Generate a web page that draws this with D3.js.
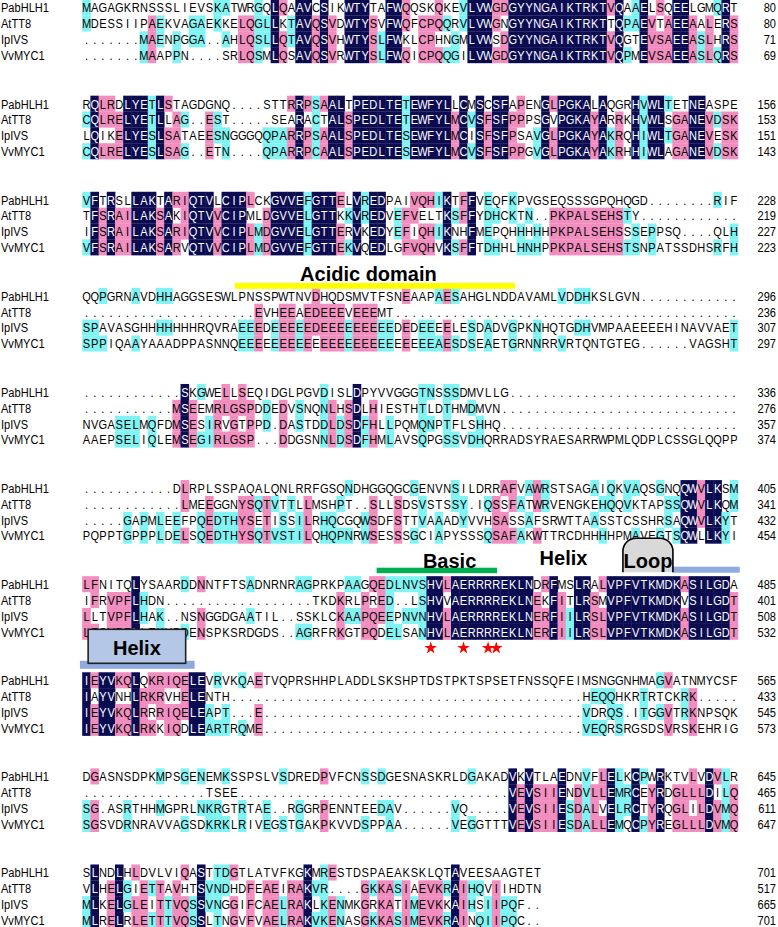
<!DOCTYPE html>
<html>
<head>
<meta charset="utf-8">
<title>bHLH alignment</title>
<script src="https://cdn.jsdelivr.net/npm/d3@7"></script>
<style>
  body { margin: 0; background-color: white; }
  svg text { font-family: 'Liberation Sans', Arial, sans-serif; }
</style>
</head>
<body>
<svg id="chart" width="778" height="927"></svg>
<script>
// sequence names, one row each per block
const names = ['PabHLH1', 'AtTT8', 'IpIVS', 'VvMYC1']

// aligned blocks ('.' = gap), 80 columns each, last block 56
const blocks = [
  ['MAGAGKRNSSSLIEVSKATWRGQLQAAVCSIKWTYTAFWQQSKQKEVLVWGDGYYNGAIKTRKTVQAAELSQEELGMQRT',
   'MDESSIIPAEKVAGAEKKELQGLLKTAVQSVDWTYSVFWQFCPQQRVLVWGNGYYNGAIKTRKTTQPAEVTAEEAALERS',
   '.......MAENPGGA..AHLQSLLQTAVQSVHWTYSLFWKLCPHNGMLVWSDGYYNGAIKTRKTVQGTEVSAEEASLHRS',
   '.......MAAPPN....SRLQSMLQSAVQSVRWTYSLFWQICPQQGILVWGDGYYNGAIKTRKTVQPMEVSAEEASLQRS'],
  ['RQLRDLYETLSTAGDGNQ....STTRRPSAALTPEDLTETEWFYLLCMSCSFAPENGLPGKALAQGRHVWLTETNEASPE',
   'CQLRELYETLLAG..EST.....SEARACTALSPEDLTETEWFYLMCVSFSFPPPSGVPGKAYARRKHVWLSGANEVDSK',
   'LQIKELYESLSATAEESNGGGQQPARRPSAALSPEDLTESEWFYLMCISFSFPSAVGLPGKAYAKRQHIWLTGANEVESK',
   'CQLRELYESLSAG..ETN....QPARRPCAALSPEDLTESEWFYLMCVSFSFPPGVGLPGKAYAKRHHIWLAGANEVDSK'],
  ['VFTRSLLAKTARIQTVLCIPLCKGVVEFGTTELVREDPAIVQHIKTFFVEQFKPVGSEQSSSGPQHQGD........RIF',
   'TFSRAILAKSAKIQTVVCIPMLDGVVELGTTKKVREDVEFVELTKSFFYDHCKTN..PKPALSEHSTY............',
   'IFSRAILAKSARIQTVVCIPLMDGVVELGTTERVKEDYEFIQHIKNHFMEPQHHHHHPKPALSEHSSSEPPSQ....QLH',
   'VFSRAILAKSARVQTVVCIPLMDGVVEFGTTEKVQEDLGFVQHVKSFFTDHHLHNHPPKPALSEHSTSNPATSSDHSRFH'],
  ['QQPGRNAVDHHAGGSESWLPNSSPWTNVDHQDSMVTFSNEAAPAESAHGLNDDAVAMLVDDHKSLGVN............',
   '.....................EVHEEAEDEEEVEEEMT..........................................',
   'SPAVASGHHHHHHHRQVRAEEEDEEEEEDEEEEEEEEEDEDEEEELESDADVGPKNHQTGDHVMPAAEEEEHINAVVAET',
   'SPPIQAAYAAADPPASNNQEEEEEEEEEEEEEEEEEEEEEEEEAESDSEAETGRNNRRVRTQNTGTEG......VAGSHT'],
  ['............SKGWELLSEQIDGLPGVDISLDPYVVGGGTNSSSDMVLLG............................',
   '...........MSEEMRLGSPDDEDVSNQNLHSDLHIESTHTLDTHMDMVN.............................',
   'NVGASELMQFDMSESIRVGTPPD.DASTDDLDSDFHLLPQMQNPTFLSHHQ.............................',
   'AAEPSELIQLEMSEGIRLGSP...DDGSNNLDSDFHMLAVSQPGSSVDHQRRADSYRAESARRWPMLQDPLCSSGLQQPP'],
  ['...........DLRPLSSPAQALQNLRRFGSQNDHGGQGCGENVNSILDRRAFVAWRSTSAGAIQKVAQSGNQQWVLKSM',
   '............LMEEGGNYSQTVTTLLMSHPT..SLLSDSVSTSSY.IQSSFATWRVENGKEHQQVKTAPSSQWVLKQM',
   '.....GAPMLEEFPQEDTHYSETISSILRHQCGQWSDFSTTVAAADYVVHSASSAFSRWTTAASSTCSSHRSAQWVLKYT',
   'PQPPTGPPPLDELSQEDTHYSQTVSTILQHQPNRWSESSSGCIAPYSSSQSAFAKWTTRCDHHHHPMAVEGTSQWLLKYI'],
  ['LFNITQLYSAARDDNNTFTSADNRNRAGPRKPAAGQEDLNVSHVLAERRRREKLNDRFMSLRALVPFVTKMDKASILGDA',
   'IFRVPFLHDN..................TKDKRLPRED..LSHVVAERRRREKLNEKFITLRSMVPFVTKMDKVSILGDT',
   'LLTVPFLHAK..NSNGGDGAATIL..SSKLCKAAPQEEPNVNHVLAERRRREKLNERFIILRSLVPFVTKMDKASILGDT',
   'LFSVPFLLTKYPDENSPKSRDGDS..AGRFRKGTPQDELSANHVLAERRRREKLNERFIILRSLVPFVTKMDKASILGDT'],
  ['IEYVKQLQKRIQELEVRVKQAETVQPRSHHPLADDLSKSHPTDSTPKTSPSETFNSSQFEIMSNGGNHMAGVATNMYCSF',
   'IAYVNHLRKRVHELENTH...........................................HEQQHKRTRTCKRK.....',
   'IEYVKQLRRRIQELEAPT...E.......................................VDRQS.ITGGVTRKNPSQK',
   'IEYVKQLRKKIQDLEARTRQME.......................................VEQRSRGSDSVRSKEHRIG'],
  ['DGASNSDPKMPSGENEMKSSPSLVSDREDPVFCNSSDGESNASKRLDGAKADVKVTLAEDNVFLELKCPWRKTVLVDVLR',
   '...............TSEE.................................VEVSIIENDVLLEMRCEYRDGLLLDILQ',
   'SG.ASRTHHMGPRLNKRGTRTAE..RGGRPENNTEEDAV......VQ.....VEVSIIESDALVELRCTYRQGLILDVMQ',
   'SGSVDRNRAVVAGSDKRKLRIVEGSTGAKPKVVDSPPAA......VEGGTTTVEVSIIESDALLEMQCPYREGLLLDVMQ'],
  ['SLNDLHLDVLVIQASTTDGTLATVFKGKMRESTDSPAEAKSKLQTAVEESAAGTET',
   'VLHELGIETTAVHTSVNDHDFEAEIRAKVR....GKKASIAEVKRAIHQVIIHDTN',
   'MLKELGLEITTVQSSVNGGIFCAELRAKLKENMKGRKATIMEVKKAIHSIIPQF..',
   'MLRELRLETTTVQSSLTNGVFVAELRAKVKENASGKKASIMEVKRAINQIIPQC..']
]

// residue numbers at the end of each row
const ends = [
  [80, 80, 71, 69], [156, 153, 151, 143], [228, 219, 227, 223], [296, 236, 307, 297],
  [336, 276, 357, 374], [405, 341, 432, 454], [485, 401, 508, 532], [565, 433, 545, 573],
  [645, 465, 611, 647], [701, 517, 665, 701]
]

// domain labels: block index and column span
const domainBars = [
  { label: 'Acidic domain', block: 3, from: 19.6, to: 53.8 },
  { label: 'Basic', block: 6, from: 36.9, to: 51.6 }
]
const helixTop = { label: 'Helix', block: 6, at: 59.7 }
const loopBox = { label: 'Loop', block: 6, from: 66.95, to: 73.05, barTo: 81.2 }
const helixBox = { label: 'Helix', block: 7, from: 1.7, to: 13.6, barFrom: 0.7, barTo: 14.7 }
// conserved basic residues marked by stars (block 7 of the figure)
const starBlock = 6
const starCols = [43, 47, 50, 51]

const shade = { 4: '#0b0b52', 3: '#f28dbf', 2: '#80f3f3' }
const rowH = 15.85
const squeeze = 0.82

const svg = d3.select('#chart')
const colX = d3.scaleLinear().domain([1, 81]).range([82.4, 82.4 + 80 * 8.196])
const blockY = d3.scaleLinear().domain([0, 1]).range([7.6, 7.6 + 96.1])
const rowY = (b, r) => blockY(b) + r * rowH
const cw = colX(2) - colX(1)

blocks.forEach((rows, b) => {
  const g = svg.append('g')
  const cells = []
  for (let c = 0; c < rows[0].length; c++) {
    const column = rows.map(s => s[c])
    rows.forEach((s, r) => {
      const ch = s[c]
      const n = ch === '.' ? 0 : column.filter(x => x === ch).length
      cells.push({ r, c: c + 1, ch, n })
    })
  }

  g.selectAll('rect').data(cells.filter(d => d.n >= 2)).join('rect')
    .attr('x', d => colX(d.c) - 0.2)
    .attr('y', d => rowY(b, d.r) - rowH / 2 - 0.1)
    .attr('width', cw + 0.4)
    .attr('height', rowH + 0.2)
    .attr('fill', d => shade[d.n])

  g.selectAll('text.res').data(cells).join('text')
    .attr('class', 'res')
    .attr('transform', d => `translate(${colX(d.c) + cw / 2},${rowY(b, d.r) + 4.8}) scale(${squeeze},1)`)
    .attr('text-anchor', 'middle')
    .attr('font-size', 13.5)
    .attr('fill', d => d.n === 4 ? 'white' : 'black')
    .text(d => d.ch)

  g.selectAll('text.name').data(names).join('text')
    .attr('class', 'name')
    .attr('transform', (d, r) => `translate(1,${rowY(b, r) + 4.8}) scale(${squeeze},1)`)
    .attr('font-size', 13.5)
    .text(d => d)

  g.selectAll('text.num').data(ends[b]).join('text')
    .attr('class', 'num')
    .attr('transform', (d, r) => `translate(776,${rowY(b, r) + 4.8}) scale(${squeeze},1)`)
    .attr('text-anchor', 'end')
    .attr('font-size', 13.5)
    .text(d => d)
})

// annotations
const ann = svg.append('g')
const barColor = { 'Acidic domain': '#ffff00', 'Basic': '#00b050' }
const barOffset = { 'Acidic domain': [-13, -7, -15.4], 'Basic': [-16.5, -11, -16.5] }

domainBars.forEach(d => {
  const y0 = blockY(d.block)
  const [top, bot, base] = barOffset[d.label]
  ann.append('rect')
    .attr('x', colX(d.from)).attr('width', colX(d.to) - colX(d.from))
    .attr('y', y0 + top).attr('height', bot - top)
    .attr('fill', barColor[d.label])
  ann.append('text')
    .attr('x', d.label === 'Basic' ? colX(45.8) : colX(35.9))
    .attr('y', y0 + base)
    .attr('text-anchor', 'middle')
    .attr('font-size', 20).attr('font-weight', 'bold')
    .text(d.label)
})

ann.append('text')
  .attr('x', colX(helixTop.at)).attr('y', blockY(helixTop.block) - 19.5)
  .attr('text-anchor', 'middle')
  .attr('font-size', 20).attr('font-weight', 'bold')
  .text(helixTop.label)

// loop: rounded-top box with a bar to its right
{
  const y0 = blockY(loopBox.block)
  const x1 = colX(loopBox.from), x2 = colX(loopBox.to)
  const top = y0 - 46, bot = y0 - 12, rad = 13
  ann.append('rect')
    .attr('x', x2).attr('width', colX(loopBox.barTo) - x2)
    .attr('y', y0 - 17.5).attr('height', 6)
    .attr('fill', '#8faadc')
  const p = d3.path()
  p.moveTo(x1, bot)
  p.lineTo(x1, top + rad)
  p.arcTo(x1, top, x1 + rad, top, rad)
  p.lineTo(x2 - rad, top)
  p.arcTo(x2, top, x2, top + rad, rad)
  p.lineTo(x2, bot)
  ann.append('path').attr('d', p.toString())
    .attr('fill', '#d9d9d9').attr('stroke', 'black').attr('stroke-width', 1.6)
  ann.append('text')
    .attr('x', (x1 + x2) / 2).attr('y', y0 - 16)
    .attr('text-anchor', 'middle')
    .attr('font-size', 20).attr('font-weight', 'bold')
    .text(loopBox.label)
}

// helix box over the bar
{
  const y0 = blockY(helixBox.block)
  ann.append('rect')
    .attr('x', colX(helixBox.barFrom)).attr('width', colX(helixBox.barTo) - colX(helixBox.barFrom))
    .attr('y', y0 - 19.5).attr('height', 8)
    .attr('fill', '#8faadc')
  ann.append('rect')
    .attr('x', colX(helixBox.from)).attr('width', colX(helixBox.to) - colX(helixBox.from))
    .attr('y', y0 - 51).attr('height', 34)
    .attr('fill', '#b4c7e7').attr('stroke', '#222').attr('stroke-width', 1.6)
  ann.append('text')
    .attr('x', (colX(helixBox.from) + colX(helixBox.to)) / 2).attr('y', y0 - 25)
    .attr('text-anchor', 'middle')
    .attr('font-size', 20).attr('font-weight', 'bold')
    .text(helixBox.label)
}

// red stars under the basic region
ann.selectAll('path.star').data(starCols).join('path')
  .attr('class', 'star')
  .attr('d', d3.symbol().type(d3.symbolStar).size(48))
  .attr('transform', d => `translate(${colX(d) + cw / 2},${rowY(starBlock, 4) + 0.5})`)
  .attr('fill', '#ff0000')
</script>
</body>
</html>
